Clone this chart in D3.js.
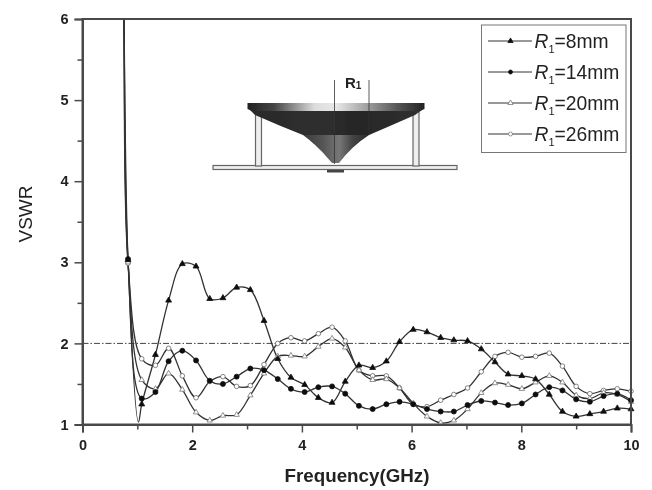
<!DOCTYPE html>
<html><head><meta charset="utf-8">
<script src="https://cdn.jsdelivr.net/npm/d3@7"></script>
<style>
html,body{margin:0;padding:0;background:#fff}
svg{display:block;font-family:"Liberation Sans",Arial,sans-serif}
</style></head><body><svg id="c" width="652" height="490"></svg>
<script>
const freqs=[0.83,1.08,1.33,1.57,1.82,2.07,2.32,2.56,2.81,3.06,3.31,3.56,3.80,4.05,4.30,4.55,4.79,5.04,5.29,5.54,5.78,6.03,6.28,6.53,6.77,7.02,7.27,7.52,7.76,8.01,8.26,8.51,8.75,9.00,9.25,9.50,9.75,10.00];
const r8=[3.03,1.25,1.86,2.53,2.98,2.95,2.55,2.56,2.69,2.66,2.28,1.81,1.58,1.49,1.33,1.27,1.53,1.73,1.70,1.78,2.02,2.17,2.14,2.07,2.04,2.03,1.93,1.77,1.62,1.60,1.56,1.37,1.16,1.10,1.13,1.16,1.20,1.19];
const r14=[3.04,1.32,1.40,1.78,1.91,1.79,1.54,1.50,1.59,1.69,1.67,1.56,1.44,1.40,1.46,1.47,1.38,1.23,1.19,1.25,1.28,1.25,1.19,1.16,1.16,1.24,1.29,1.27,1.24,1.26,1.37,1.46,1.42,1.31,1.28,1.35,1.38,1.30];
const r20=[3.00,1.55,1.44,1.63,1.43,1.15,1.05,1.11,1.12,1.36,1.63,1.84,1.85,1.84,1.96,2.06,1.95,1.67,1.55,1.56,1.45,1.26,1.10,1.02,1.05,1.19,1.39,1.51,1.49,1.44,1.52,1.60,1.52,1.36,1.32,1.39,1.37,1.28];
const r26=[2.99,1.81,1.73,1.94,1.60,1.33,1.53,1.59,1.47,1.48,1.74,2.00,2.07,2.03,2.12,2.20,2.03,1.67,1.60,1.60,1.45,1.25,1.22,1.30,1.37,1.45,1.65,1.84,1.89,1.83,1.84,1.88,1.72,1.47,1.38,1.42,1.44,1.41];
const leadFreq=[0.73,0.755];
const leadVswr=[6.9,6.0];
const dipFreq=1.02, dipVswr=1.03;
const xTicks=[0,2,4,6,8,10], yTicks=[1,2,3,4,5,6];
const xMinor=[1,3,5,7,9], yMinor=[1.5,2.5,3.5,4.5,5.5];
const refLine=2;
const legendLabels=["8mm","14mm","20mm","26mm"];
const series=[
 {v:r26,m:"circle",f:"#fff",dip:false},
 {v:r20,m:"triangle",f:"#fff",dip:false},
 {v:r14,m:"circle",f:"#111",dip:false},
 {v:r8,m:"triangle",f:"#111",dip:true}
];
const ink="#4a4a4a";
const svg=d3.select("#c");
const L=82.5,R=631,T=19,B=424.5;
const x=d3.scaleLinear().domain([0,10]).range([L,R]);
const y=d3.scaleLinear().domain([1,6]).range([B,T]);
const defs=svg.append("defs");
const flt=defs.append("filter").attr("id","soft").attr("filterUnits","userSpaceOnUse").attr("x",0).attr("y",0).attr("width",652).attr("height",490);
flt.append("feGaussianBlur").attr("stdDeviation",0.5);
defs.append("clipPath").attr("id","plot").append("rect").attr("x",L).attr("y",T).attr("width",R-L).attr("height",B-T);
const g1=defs.append("linearGradient").attr("id","disc");
[[0,"#222"],[.15,"#444"],[.38,"#ddd"],[.5,"#e8e8e8"],[.65,"#aaa"],[.85,"#555"],[1,"#222"]].forEach(d=>g1.append("stop").attr("offset",d[0]).attr("stop-color",d[1]));
const g2=defs.append("linearGradient").attr("id","cone");
[[0,"#2a2a2a"],[.45,"#2f2f2f"],[.6,"#262626"],[1,"#303030"]].forEach(d=>g2.append("stop").attr("offset",d[0]).attr("stop-color",d[1]));
const g3=defs.append("linearGradient").attr("id","coneLow");
[[0,"#3a3a3a"],[.3,"#555"],[.55,"#777"],[.75,"#444"],[1,"#2a2a2a"]].forEach(d=>g3.append("stop").attr("offset",d[0]).attr("stop-color",d[1]));

const root=svg.append("g").attr("filter","url(#soft)");
// reference line
root.append("line").attr("x1",L).attr("x2",R).attr("y1",y(refLine)).attr("y2",y(refLine))
 .attr("stroke","#444").attr("stroke-width",1).attr("stroke-dasharray","6 2 1.5 2");
// inset
const ins=root.append("g");
ins.append("rect").attr("x",213).attr("y",165.5).attr("width",244).attr("height",4).attr("fill","#eee").attr("stroke","#666").attr("stroke-width",1.2);
ins.append("rect").attr("x",327).attr("y",170).attr("width",17).attr("height",2.5).attr("fill","#444");
[[255.5,6],[413,6]].forEach(d=>{ins.append("rect").attr("x",d[0]).attr("y",108).attr("width",d[1]).attr("height",58).attr("fill","#eee").attr("stroke","#666").attr("stroke-width",1.2);});
ins.append("path").attr("d","M250,110 L422,110 L415,115 Q390,126 369,135 L303,135 Q280,126 255,115 Z").attr("fill","url(#cone)");
ins.append("path").attr("d","M303,135 L369,135 Q352,146 339,163 L332,163 Q318,146 303,135 Z").attr("fill","url(#coneLow)");
ins.append("path").attr("d","M247.5,103 L424.5,103 L424.5,109 L420,111 L252,111 L247.5,109 Z").attr("fill","url(#disc)");
ins.append("line").attr("x1",334.5).attr("x2",334.5).attr("y1",80).attr("y2",164).attr("stroke","#333").attr("stroke-width",.8);
ins.append("line").attr("x1",369).attr("x2",369).attr("y1",80).attr("y2",135).attr("stroke","#333").attr("stroke-width",.8);
const rl=ins.append("text").attr("x",345).attr("y",88).attr("font-size",15).attr("font-weight","bold").attr("fill","#222").text("R");
rl.append("tspan").attr("font-size",10).attr("dy",1).text("1");
// curves
const line=d3.line().x(d=>x(d[0])).y(d=>y(d[1])).curve(d3.curveCatmullRom.alpha(0.5));
const plot=root.append("g").attr("clip-path","url(#plot)");
const tri=d3.symbol().type(d3.symbolTriangle);
series.forEach(s=>{
 const pts=leadFreq.map((f,i)=>[f,leadVswr[i]]);
 freqs.forEach((f,i)=>{
  pts.push([f,s.v[i]]);
  if(s.dip&&i===0)pts.push([dipFreq,dipVswr]);
 });
 plot.append("path").attr("d",line(pts)).attr("fill","none").attr("stroke","#333").attr("stroke-width",1.3);
});
series.forEach(s=>{
 const gm=root.append("g");
 freqs.forEach((f,i)=>{
  if(s.m==="circle"){
   gm.append("circle").attr("cx",x(f)).attr("cy",y(s.v[i])).attr("r",s.f==="#fff"?2.3:2.5)
    .attr("fill",s.f).attr("stroke",s.f==="#fff"?"#666":"#111").attr("stroke-width",.8);
  }else{
   gm.append("path").attr("d",tri.size(s.f==="#fff"?13:15)()).attr("transform",`translate(${x(f)},${y(s.v[i])})`)
    .attr("fill",s.f).attr("stroke",s.f==="#fff"?"#777":"#111").attr("stroke-width",.8);
  }
 });
});
// frame
root.append("rect").attr("x",L).attr("y",T).attr("width",R-L).attr("height",B-T).attr("fill","none").attr("stroke",ink).attr("stroke-width",2);
// axes
const ax=root.append("g").attr("transform",`translate(0,${B})`).call(d3.axisBottom(x).tickValues(xTicks).tickFormat(d3.format("d")).tickSize(8).tickPadding(7));
const ay=root.append("g").attr("transform",`translate(${L},0)`).call(d3.axisLeft(y).tickValues(yTicks).tickFormat(d3.format("d")).tickSize(8).tickPadding(6));
root.append("g").attr("transform",`translate(0,${B})`).call(d3.axisBottom(x).tickValues(xMinor).tickFormat("").tickSize(5)).call(g=>g.select(".domain").remove());
root.append("g").attr("transform",`translate(${L},0)`).call(d3.axisLeft(y).tickValues(yMinor).tickFormat("").tickSize(5)).call(g=>g.select(".domain").remove());
root.selectAll(".domain").attr("stroke",ink).attr("stroke-width",2);
root.selectAll(".tick line").attr("stroke",ink).attr("stroke-width",1.5);
[ax,ay].forEach(a=>a.selectAll("text").attr("font-size",14.5).attr("font-weight","bold").attr("fill","#222").attr("font-family",'"Liberation Sans",Arial,sans-serif'));
root.append("text").attr("x",357).attr("y",481.5).attr("text-anchor","middle").attr("font-size",18.8).attr("font-weight","bold").attr("fill","#222").text("Frequency(GHz)");
root.append("text").attr("transform","translate(32,214) rotate(-90)").attr("text-anchor","middle").attr("font-size",19).attr("fill","#222").text("VSWR");
// legend
root.append("rect").attr("x",481.5).attr("y",25).attr("width",144.5).attr("height",127.5).attr("fill","#fff").attr("stroke","#777").attr("stroke-width",1);
const legendOrder=[3,2,1,0];
const rowY=[41,72,103,134];
legendLabels.forEach((lab,i)=>{
 const s=series[legendOrder[i]], yy=rowY[i];
 root.append("line").attr("x1",488).attr("x2",532).attr("y1",yy).attr("y2",yy).attr("stroke","#333").attr("stroke-width",1);
 if(s.m==="circle")root.append("circle").attr("cx",510.5).attr("cy",yy).attr("r",2).attr("fill",s.f).attr("stroke",s.f==="#fff"?"#777":"#111").attr("stroke-width",.8);
 else root.append("path").attr("d",tri.size(12)()).attr("transform",`translate(510.5,${yy})`).attr("fill",s.f).attr("stroke",s.f==="#fff"?"#777":"#111").attr("stroke-width",.8);
 const t=root.append("text").attr("x",534.5).attr("y",yy+7).attr("font-size",19.3).attr("fill","#222");
 t.append("tspan").attr("font-style","italic").text("R");
 t.append("tspan").attr("font-size",11).attr("dy",5).text("1");
 t.append("tspan").attr("dy",-5).text("="+lab);
});
</script></body></html>
